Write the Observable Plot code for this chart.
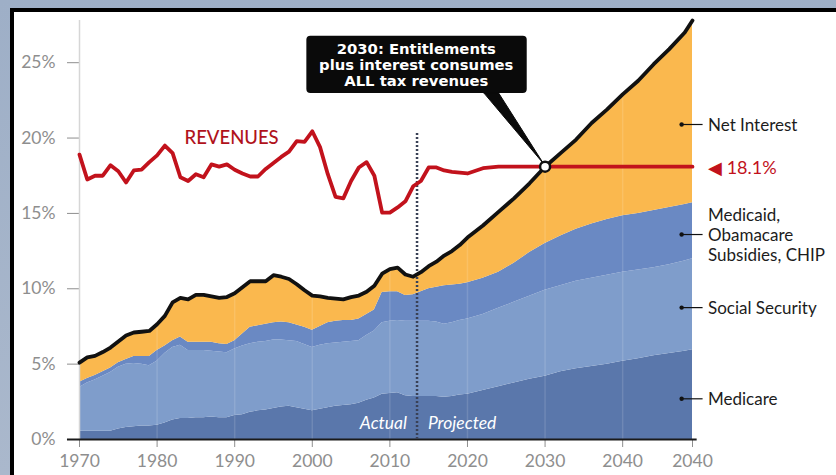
<!DOCTYPE html>
<html><head><meta charset="utf-8">
<script src="https://cdn.jsdelivr.net/npm/d3@7"></script>
<script src="https://cdn.jsdelivr.net/npm/@observablehq/plot@0.6"></script>
<style>
html,body{margin:0;padding:0;width:836px;height:475px;overflow:hidden;background:linear-gradient(#9eafc7,#aab8cc);}
#frame{position:absolute;left:10px;top:8px;right:0;bottom:0;background:#fff;border-left:4px solid #000;border-top:4px solid #000;}
#chart{position:absolute;left:0;top:0;}
</style></head><body><div id="frame"></div><div id="chart"></div>
<script>
// ---- data (share of GDP, %) ----
const years = [1970,1971,1972,1973,1974,1975,1976,1977,1978,1979,
  1980,1981,1982,1983,1984,1985,1986,1987,1988,1989,
  1990,1991,1992,1993,1994,1995,1996,1997,1998,1999,
  2000,2001,2002,2003,2004,2005,2006,2007,2008,2009,
  2010,2011,2012,2013,2014,2015,2016,2017,2018,2019,
  2020,2022,2024,2026,2028,2030,2032,2034,2036,2038,2040,2042,2044,2046,2048,2049];
const medicare = [.55,.55,.55,.55,.55,.7,.8,.85,.9,.9,
  .95,1.1,1.3,1.4,1.4,1.45,1.45,1.5,1.45,1.45,
  1.6,1.65,1.8,1.9,1.95,2.05,2.15,2.2,2.1,2.0,
  1.9,2.0,2.1,2.2,2.25,2.3,2.4,2.6,2.75,3.0,
  3.05,3.1,2.9,2.85,2.85,2.85,2.85,2.8,2.85,2.95,
  3.0,3.25,3.5,3.75,4.0,4.2,4.5,4.7,4.85,5.0,5.2,5.35,5.55,5.7,5.85,5.95];
const socialSecurity = [2.9,3.2,3.4,3.65,3.9,4.1,4.2,4.2,4.1,4.0,
  4.25,4.6,4.8,4.85,4.5,4.45,4.45,4.35,4.35,4.3,
  4.4,4.55,4.55,4.55,4.55,4.55,4.45,4.35,4.4,4.3,
  4.2,4.25,4.25,4.2,4.2,4.2,4.15,4.3,4.45,4.75,
  4.8,4.8,4.95,5.0,5.0,5.0,4.95,4.85,4.9,4.95,
  5.0,5.05,5.2,5.35,5.5,5.7,5.7,5.8,5.85,5.9,5.9,5.9,5.85,5.9,6.0,6.05];
const medicaid = [.35,.3,.3,.3,.3,.3,.3,.45,.5,.6,
  .7,.5,.45,.55,.55,.55,.55,.6,.55,.55,
  .55,.8,1.1,1.1,1.15,1.15,1.2,1.2,1.1,1.15,
  1.15,1.25,1.4,1.45,1.45,1.4,1.45,1.4,1.4,2.0,
  1.95,1.9,1.7,1.75,1.95,2.15,2.3,2.55,2.5,2.4,
  2.4,2.4,2.4,2.6,2.9,3.1,3.3,3.45,3.6,3.7,3.75,3.75,3.8,3.8,3.75,3.7];
const netInterest = [1.3,1.4,1.3,1.3,1.35,1.4,1.6,1.6,1.65,1.7,
  1.75,2.0,2.55,2.6,2.85,3.15,3.15,3.05,3.05,3.15,
  3.15,3.1,3.05,2.95,2.85,3.15,3.0,2.9,2.7,2.45,
  2.3,2.0,1.65,1.5,1.4,1.55,1.55,1.5,1.6,1.25,
  1.5,1.6,1.4,1.2,1.3,1.5,1.7,2.0,2.25,2.6,
  3.0,3.5,4.0,4.3,4.6,5.1,5.5,5.95,6.7,7.3,8.05,8.8,9.7,10.5,11.4,12.1];
const revenues = [18.9,17.25,17.5,17.5,18.2,17.8,17.05,17.85,17.9,18.4,
  18.85,19.5,19.0,17.4,17.15,17.6,17.4,18.25,18.1,18.25,
  17.9,17.65,17.45,17.45,17.95,18.35,18.75,19.1,19.8,19.75,
  20.45,19.4,17.6,16.1,16.0,17.15,18.05,18.4,17.5,15.05,
  15.05,15.4,15.8,16.8,17.15,18.05,18.05,17.85,17.75,17.7,
  17.65,18.0,18.1,18.1,18.1,18.1,18.1,18.1,18.1,18.1,18.1,18.1,18.1,18.1,18.1,18.1];

const seriesNames = ["Medicare", "Social Security", "Medicaid, Obamacare Subsidies, CHIP", "Net Interest"];
const seriesColors = ["#5a77ab", "#7f9dcb", "#6a89c3", "#fab84e"];
const seriesLabels = ["Medicare", "Social Security", "Medicaid,\nObamacare\nSubsidies, CHIP", "Net Interest"];
const labelLevels = [2.7, 8.75, 13.6, 20.9];

const tickYears = [1970, 1980, 1990, 2000, 2010, 2020, 2030, 2040, 2049];
const tickLabels = ["1970", "1980", "1990", "2000", "2010", "2020", "2030", "2040", "2040"];
const pctTicks = [0, 5, 10, 15, 20, 25];
const revenueTarget = 18.1;
const crossingYear = 2030;
const projectionStart = 2013.5;
const calloutText = "2030: Entitlements\nplus interest consumes\nALL tax revenues";

// ---- build tables ----
const seriesValues = [medicare, socialSecurity, medicaid, netInterest];
const rows = [];
seriesNames.forEach((s, k) => years.forEach((y, i) => rows.push({year: y, series: s, value: seriesValues[k][i]})));
const totals = years.map((y, i) => ({year: y, value: medicare[i] + socialSecurity[i] + medicaid[i] + netInterest[i]}));
const rev = years.map((y, i) => ({year: y, value: revenues[i]}));
const tickText = new Map(tickYears.map((y, i) => [y, tickLabels[i]]));
const yMax = 27.8;
const labelX = 2051, dotX = 2047.6, leadEnd = 2050.3;
const labelRows = seriesLabels.map((t, i) => ({text: t, y: labelLevels[i]}));

const chart = Plot.plot({
  width: 836, height: 475,
  marginLeft: 79, marginRight: 144, marginTop: 20, marginBottom: 36,
  style: {background: "transparent", fontFamily: "Lato, sans-serif", fontSize: "17.5px", color: "#8e8e8e", overflow: "visible"},
  x: {domain: [1970, 2049], ticks: tickYears, tickFormat: d => tickText.get(d), tickSize: 8, tickPadding: 7, label: null},
  y: {domain: [0, yMax], ticks: pctTicks, tickFormat: d => d + "%", tickSize: 12, tickPadding: 12, label: null},
  color: {domain: seriesNames, range: seriesColors},
  marks: [
    Plot.areaY(rows, {x: "year", y: "value", fill: "series", order: seriesNames}),
    Plot.ruleX(tickYears.slice(1, -1), {y1: 0, y2: yMax, stroke: "white", strokeOpacity: 0.13, strokeWidth: 1.5}),
    Plot.ruleX([1970], {y1: 0, y2: yMax, stroke: "#d6d6d6", strokeWidth: 1.5}),
    Plot.ruleY([0], {x1: 1968.45, x2: 2049.6, stroke: "#1a1a1a", strokeWidth: 2}),
    Plot.ruleX([projectionStart], {y1: 0, y2: 20.3, stroke: "#3a4156", strokeWidth: 2.5, strokeDasharray: "2,2"}),
    Plot.text(["Actual"], {x: 2012.2, y: 1.1, text: d => d, textAnchor: "end", fill: "white", fontStyle: "italic", fontSize: 17.5}),
    Plot.text(["Projected"], {x: 2014.9, y: 1.1, text: d => d, textAnchor: "start", fill: "white", fontStyle: "italic", fontSize: 17.5}),
    Plot.lineY(rev, {x: "year", y: "value", stroke: "#c2121c", strokeWidth: 3.8, strokeLinejoin: "round"}),
    Plot.lineY(totals, {x: "year", y: "value", stroke: "#111", strokeWidth: 3.8, strokeLinejoin: "round"}),
    Plot.text(["REVENUES"], {x: 1989.6, y: 19.97, text: d => d, fill: "#b0121b", fontSize: 18.5, fontWeight: 500}),
    Plot.rect([0], {x1: 1999.3, x2: 2027.7, y1: 22.95, y2: 26.75, fill: "#0a0a0a", rx: 4}),
    Plot.line([[2022.1, 23.0], [2024.0, 23.0], [crossingYear - 0.2, revenueTarget + 0.2], [2022.1, 23.0]], {fill: "#0a0a0a", stroke: "#0a0a0a", strokeWidth: 1}),
    Plot.text([calloutText], {x: 2013.4, y: 24.85, text: d => d, fill: "white", fontFamily: "DejaVu Sans, sans-serif", fontWeight: "bold", fontSize: 14.8, lineHeight: 1.1}),
    Plot.dot([0], {x: crossingYear, y: revenueTarget, r: 5, fill: "white", stroke: "#111", strokeWidth: 2.5}),
    Plot.link(labelRows, {x1: dotX, x2: leadEnd, y1: "y", y2: "y", stroke: "#111", strokeWidth: 1.2}),
    Plot.dot(labelRows, {x: dotX, y: "y", r: 2.2, fill: "#111", stroke: null}),
    Plot.text(labelRows, {x: labelX, y: "y", text: "text", textAnchor: "start", fill: "#1c1c1c", fontSize: 17, lineHeight: 1.16}),
    Plot.text([revenueTarget], {x: labelX, y: d => d - 0.1, text: d => "\u25C0 " + d + "%", textAnchor: "start", fill: "#c2121c", fontSize: 18})
  ]
});
document.getElementById("chart").appendChild(chart);
</script></body></html>
